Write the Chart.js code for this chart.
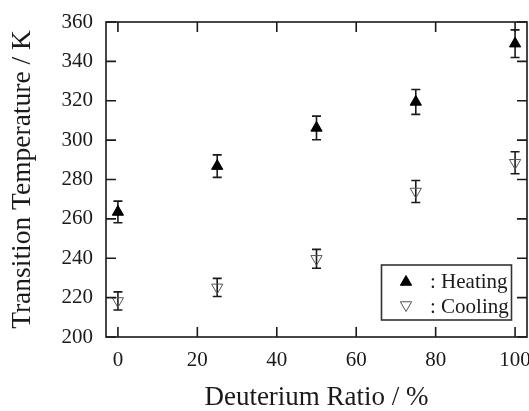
<!DOCTYPE html>
<html>
<head>
<meta charset="utf-8">
<script src="https://cdn.jsdelivr.net/npm/chart.js@4/dist/chart.umd.min.js"></script>
<style>
  html, body { margin: 0; padding: 0; background: #fff; }
  #wrap { width: 529px; height: 411px; }
</style>
</head>
<body>
<div id="wrap"><canvas id="myChart"></canvas></div>
<script>
// data
const ratios = [0, 25, 50, 75, 100];
const heating = [263.5, 286.8, 306.2, 319.4, 349.0];
const heatingErr = [5.5, 5.7, 6.0, 6.3, 7.0];
const cooling = [218.3, 225.2, 239.7, 273.9, 288.5];
const coolingErr = [4.6, 4.6, 4.8, 5.6, 5.6];
const xTicks = [0, 20, 40, 60, 80, 100];
const yTicks = [200, 220, 240, 260, 280, 300, 320, 340, 360];
const legendLabels = [": Heating", ": Cooling"];

const serif = "'Liberation Serif', 'DejaVu Serif', serif";
const ink = "#1a1a1a";

const toPoints = (ys) => ratios.map((x, i) => ({ x: x, y: ys[i] }));

// error bars, drawn under the markers
const errorBars = {
  id: "errorBars",
  beforeDatasetsDraw(chart) {
    const ctx = chart.ctx;
    const xs = chart.scales.x;
    const ys = chart.scales.y;
    const sets = [[heating, heatingErr], [cooling, coolingErr]];
    ctx.save();
    ctx.strokeStyle = ink;
    ctx.lineWidth = 1.6;
    sets.forEach(([vals, errs]) => {
      vals.forEach((v, i) => {
        const px = xs.getPixelForValue(ratios[i]);
        const top = ys.getPixelForValue(v + errs[i]);
        const bot = ys.getPixelForValue(v - errs[i]);
        ctx.beginPath();
        ctx.moveTo(px, top); ctx.lineTo(px, bot);
        ctx.moveTo(px - 4.5, top); ctx.lineTo(px + 4.5, top);
        ctx.moveTo(px - 4.5, bot); ctx.lineTo(px + 4.5, bot);
        ctx.stroke();
      });
    });
    ctx.restore();
  },
};

// box frame with inward ticks on all sides, plus the legend box
const frame = {
  id: "frame",
  afterDraw(chart) {
    const ctx = chart.ctx;
    const a = chart.chartArea;
    const xs = chart.scales.x;
    const ys = chart.scales.y;
    const len = 10;
    ctx.save();
    ctx.strokeStyle = ink;
    ctx.lineWidth = 1.6;
    ctx.strokeRect(a.left, a.top, a.right - a.left, a.bottom - a.top);
    ctx.beginPath();
    xTicks.forEach((t) => {
      const px = xs.getPixelForValue(t);
      ctx.moveTo(px, a.bottom); ctx.lineTo(px, a.bottom - len);
      ctx.moveTo(px, a.top); ctx.lineTo(px, a.top + len);
    });
    yTicks.forEach((t) => {
      const py = ys.getPixelForValue(t);
      ctx.moveTo(a.left, py); ctx.lineTo(a.left + len, py);
      ctx.moveTo(a.right, py); ctx.lineTo(a.right - len, py);
    });
    ctx.stroke();

    // legend
    const bx = 381.5, by = 265, bw = 130, bh = 55;
    ctx.fillStyle = "#fff";
    ctx.fillRect(bx, by, bw, bh);
    ctx.lineWidth = 1.6;
    ctx.strokeStyle = "#333";
    ctx.strokeRect(bx, by, bw, bh);
    const rows = [by + 16, by + 41];
    chart.data.datasets.forEach((ds, i) => {
      ctx.fillStyle = ds.backgroundColor;
      ctx.strokeStyle = ds.borderColor;
      ctx.lineWidth = ds.borderWidth;
      ctx.beginPath();
      const r = 6.5;
      const rot = (ds.rotation || 0) * Math.PI / 180;
      for (let k = 0; k < 3; k++) {
        const ang = rot - Math.PI / 2 + k * 2 * Math.PI / 3;
        const vx = 406 + r * Math.cos(ang);
        const vy = rows[i] + r * Math.sin(ang) + (ds.rotation ? -1 : 1);
        if (k === 0) ctx.moveTo(vx, vy); else ctx.lineTo(vx, vy);
      }
      ctx.closePath();
      ctx.fill();
      ctx.stroke();
      ctx.fillStyle = ink;
      ctx.font = "21px " + serif;
      ctx.textBaseline = "middle";
      ctx.textAlign = "left";
      ctx.fillText(legendLabels[i], 430, rows[i] + 1);
    });
    ctx.restore();
  },
};

function createChart() {
  const ctx = document.getElementById("myChart").getContext("2d");
  new Chart(ctx, {
    type: "scatter",
    data: {
      datasets: [
        {
          label: "Heating",
          data: toPoints(heating),
          pointStyle: "triangle",
          pointRadius: 6.5,
          pointHoverRadius: 6.5,
          rotation: 0,
          backgroundColor: "#000",
          borderColor: "#000",
          borderWidth: 1,
        },
        {
          label: "Cooling",
          data: toPoints(cooling),
          pointStyle: "triangle",
          pointRadius: 6.5,
          pointHoverRadius: 6.5,
          rotation: 180,
          backgroundColor: "rgba(255,255,255,0)",
          borderColor: "#555",
          borderWidth: 1,
        },
      ],
    },
    options: {
      responsive: true,
      maintainAspectRatio: false,
      animation: false,
      events: [],
      layout: { padding: { top: 22, right: 2, left: 0, bottom: 0 }, autoPadding: false },
      plugins: { legend: { display: false }, tooltip: { enabled: false } },
      scales: {
        x: {
          type: "linear",
          min: -3,
          max: 103,
          afterBuildTicks: (s) => { s.ticks = xTicks.map((v) => ({ value: v })); },
          afterFit: (s) => {
            s.height = 74;
            // let the "100" label run off the edge like the original
            s.paddingLeft = 0;
            s.paddingRight = 0;
          },
          grid: { display: false },
          border: { display: false },
          ticks: { color: ink, padding: 3, maxRotation: 0, font: { family: serif, size: 21 } },
          title: {
            display: true,
            text: "Deuterium Ratio / %",
            color: ink,
            padding: { top: 0, bottom: 0 },
            font: { family: serif, size: 27, lineHeight: 1 },
          },
        },
        y: {
          min: 200,
          max: 360,
          afterBuildTicks: (s) => { s.ticks = yTicks.map((v) => ({ value: v })); },
          afterFit: (s) => { s.width = 106; },
          grid: { display: false },
          border: { display: false },
          ticks: { color: ink, padding: 5, font: { family: serif, size: 21 } },
          title: {
            display: true,
            text: "Transition Temperature / K",
            color: ink,
            padding: { top: 9, bottom: 0 },
            font: { family: serif, size: 27.5, lineHeight: 1 },
          },
        },
      },
    },
    plugins: [errorBars, frame],
  });
}

document.addEventListener("DOMContentLoaded", () => {
  createChart();
});
</script>
</body>
</html>
